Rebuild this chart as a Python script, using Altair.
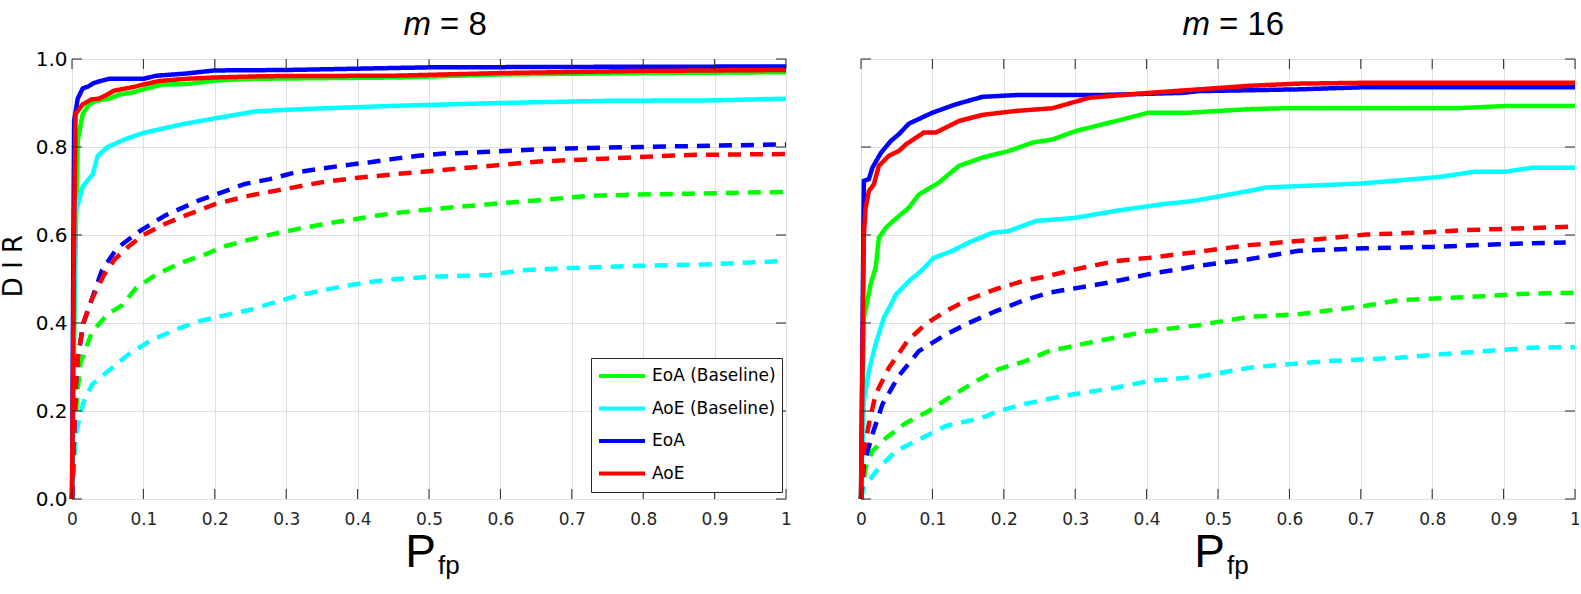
import altair as alt
import pandas as pd

# ---------------- data ----------------
X_TICKS = [0, 0.1, 0.2, 0.3, 0.4, 0.5, 0.6, 0.7, 0.8, 0.9, 1.0]
Y_TICKS = [0, 0.2, 0.4, 0.6, 0.8, 1.0]
METHODS = ["EoA (Baseline)", "AoE (Baseline)", "EoA", "AoE"]
COLORS = ["#00ff00", "#00ffff", "#0000ff", "#ff0000"]
PANEL_M = ["8", "16"]

# m = 8, solid
M8_EOA_BASE = [(0, 0), (0.004, 0.5), (0.008, 0.814), (0.015, 0.875), (0.024, 0.897), (0.034, 0.905),
               (0.052, 0.91), (0.066, 0.919), (0.085, 0.924), (0.104, 0.933), (0.127, 0.942), (0.16, 0.943),
               (0.2, 0.951), (0.253, 0.955), (0.46, 0.958), (0.6, 0.965), (0.8, 0.968), (1.0, 0.97)]
M8_AOE_BASE = [(0, 0), (0.003, 0.4), (0.005, 0.65), (0.015, 0.71), (0.029, 0.738), (0.036, 0.78),
               (0.05, 0.8), (0.075, 0.818), (0.1, 0.832), (0.155, 0.852), (0.2, 0.865), (0.257, 0.881),
               (0.32, 0.886), (0.46, 0.894), (0.6, 0.9), (0.75, 0.905), (0.9, 0.906), (1.0, 0.91)]
M8_EOA = [(0, 0), (0.002, 0.6), (0.003, 0.86), (0.008, 0.91), (0.015, 0.933), (0.022, 0.937), (0.03, 0.945),
          (0.04, 0.95), (0.052, 0.955), (0.1, 0.955), (0.118, 0.962), (0.16, 0.967), (0.2, 0.974),
          (0.3, 0.975), (0.4, 0.978), (0.5, 0.981), (0.7, 0.982), (1.0, 0.983)]
M8_AOE = [(0, 0), (0.003, 0.6), (0.005, 0.875), (0.015, 0.897), (0.027, 0.908), (0.038, 0.91),
          (0.048, 0.918), (0.059, 0.928), (0.085, 0.936), (0.1, 0.942), (0.122, 0.95), (0.16, 0.955),
          (0.2, 0.958), (0.27, 0.961), (0.45, 0.962), (0.6, 0.968), (0.8, 0.973), (1.0, 0.975)]
# m = 8, dashed
M8_EOA_BASE_D = [(0, 0), (0.003, 0.1), (0.005, 0.18), (0.008, 0.25), (0.012, 0.31), (0.028, 0.38),
                 (0.05, 0.42), (0.07, 0.44), (0.09, 0.48), (0.118, 0.51), (0.15, 0.535), (0.185, 0.555),
                 (0.215, 0.575), (0.25, 0.59), (0.29, 0.605), (0.32, 0.615), (0.36, 0.627), (0.40, 0.637),
                 (0.43, 0.645), (0.465, 0.652), (0.5, 0.658), (0.584, 0.67), (0.654, 0.679), (0.724, 0.689),
                 (0.794, 0.692), (0.864, 0.694), (0.934, 0.696), (1.0, 0.698)]
M8_AOE_BASE_D = [(0, 0), (0.003, 0.1), (0.007, 0.16), (0.016, 0.22), (0.028, 0.26), (0.05, 0.29),
                 (0.08, 0.33), (0.11, 0.36), (0.145, 0.385), (0.18, 0.405), (0.215, 0.418), (0.25, 0.43),
                 (0.28, 0.445), (0.315, 0.462), (0.35, 0.474), (0.385, 0.485), (0.42, 0.494), (0.455, 0.5),
                 (0.5, 0.505), (0.584, 0.509), (0.63, 0.52), (0.70, 0.525), (0.794, 0.53), (0.887, 0.533),
                 (1.0, 0.541)]
M8_EOA_D = [(0, 0), (0.002, 0.1), (0.005, 0.25), (0.008, 0.32), (0.016, 0.40), (0.028, 0.455),
            (0.042, 0.52), (0.063, 0.57), (0.096, 0.61), (0.13, 0.644), (0.177, 0.678), (0.21, 0.697),
            (0.242, 0.716), (0.277, 0.727), (0.312, 0.742), (0.345, 0.75), (0.38, 0.758), (0.415, 0.765),
            (0.45, 0.773), (0.485, 0.78), (0.52, 0.785), (0.584, 0.789), (0.654, 0.795), (0.724, 0.798),
            (0.794, 0.80), (0.864, 0.802), (0.934, 0.804), (1.0, 0.806)]
M8_AOE_D = [(0, 0), (0.002, 0.1), (0.005, 0.25), (0.008, 0.32), (0.016, 0.40), (0.028, 0.455),
            (0.045, 0.51), (0.06, 0.545), (0.08, 0.575), (0.1, 0.60), (0.13, 0.625), (0.16, 0.645),
            (0.2, 0.67), (0.25, 0.69), (0.3, 0.705), (0.35, 0.72), (0.4, 0.73), (0.45, 0.738),
            (0.5, 0.745), (0.584, 0.757), (0.654, 0.767), (0.724, 0.772), (0.794, 0.777),
            (0.864, 0.782), (1.0, 0.784)]

# m = 16, solid
M16_EOA_BASE = [(0, 0), (0.004, 0.41), (0.0135, 0.488), (0.0205, 0.526), (0.025, 0.594), (0.035, 0.617),
                (0.053, 0.643), (0.067, 0.662), (0.081, 0.692), (0.109, 0.719), (0.137, 0.757), (0.17, 0.776),
                (0.207, 0.791), (0.24, 0.81), (0.268, 0.817), (0.30, 0.836), (0.357, 0.859), (0.403, 0.878),
                (0.46, 0.878), (0.543, 0.886), (0.59, 0.888), (0.833, 0.888), (0.90, 0.893), (1.0, 0.893)]
M16_AOE_BASE = [(0, 0), (0.004, 0.223), (0.011, 0.291), (0.0205, 0.352), (0.032, 0.412), (0.042, 0.442),
                (0.049, 0.465), (0.067, 0.495), (0.084, 0.518), (0.102, 0.548), (0.128, 0.564),
                (0.151, 0.583), (0.184, 0.605), (0.207, 0.609), (0.245, 0.632), (0.30, 0.639),
                (0.357, 0.655), (0.422, 0.67), (0.464, 0.677), (0.543, 0.70), (0.567, 0.708), (0.7, 0.717),
                (0.81, 0.732), (0.86, 0.744), (0.903, 0.744), (0.94, 0.753), (1.0, 0.753)]
M16_EOA = [(0, 0), (0.004, 0.723), (0.011, 0.727), (0.016, 0.753), (0.028, 0.787), (0.042, 0.814),
           (0.053, 0.829), (0.067, 0.853), (0.1, 0.878), (0.133, 0.897), (0.17, 0.914), (0.217, 0.918),
           (0.333, 0.918), (0.45, 0.923), (0.473, 0.927), (0.613, 0.931), (0.707, 0.936), (1.0, 0.936)]
M16_AOE = [(0, 0), (0.004, 0.6), (0.0065, 0.662), (0.011, 0.70), (0.018, 0.715), (0.025, 0.757),
           (0.039, 0.78), (0.053, 0.791), (0.063, 0.806), (0.088, 0.833), (0.105, 0.833), (0.137, 0.859),
           (0.17, 0.873), (0.217, 0.882), (0.268, 0.888), (0.32, 0.912), (0.403, 0.923), (0.543, 0.939),
           (0.613, 0.944), (0.707, 0.946), (1.0, 0.946)]
# m = 16, dashed
M16_EOA_BASE_D = [(0, 0), (0.0065, 0.071), (0.016, 0.109), (0.035, 0.139), (0.063, 0.173), (0.095, 0.20),
                  (0.123, 0.23), (0.161, 0.268), (0.193, 0.295), (0.231, 0.314), (0.263, 0.336),
                  (0.31, 0.352), (0.357, 0.367), (0.403, 0.382), (0.473, 0.395), (0.543, 0.414),
                  (0.613, 0.42), (0.707, 0.439), (0.753, 0.452), (0.847, 0.459), (0.94, 0.467), (1.0, 0.469)]
M16_AOE_BASE_D = [(0, 0), (0.004, 0.026), (0.025, 0.071), (0.049, 0.109), (0.086, 0.139), (0.119, 0.166),
                  (0.17, 0.185), (0.193, 0.20), (0.226, 0.215), (0.282, 0.234), (0.357, 0.253),
                  (0.403, 0.268), (0.473, 0.278), (0.543, 0.298), (0.567, 0.302), (0.66, 0.314),
                  (0.753, 0.321), (0.847, 0.333), (0.94, 0.344), (1.0, 0.345)]
M16_EOA_D = [(0, 0), (0.004, 0.079), (0.016, 0.147), (0.03, 0.215), (0.053, 0.28), (0.081, 0.336),
             (0.119, 0.374), (0.151, 0.40), (0.189, 0.427), (0.226, 0.45), (0.263, 0.469), (0.319, 0.484),
             (0.357, 0.495), (0.403, 0.511), (0.473, 0.53), (0.543, 0.545), (0.613, 0.564), (0.707, 0.57),
             (0.80, 0.573), (0.893, 0.579), (0.987, 0.583)]
M16_AOE_D = [(0, 0), (0.004, 0.109), (0.011, 0.17), (0.0205, 0.238), (0.039, 0.298), (0.065, 0.359),
             (0.09, 0.397), (0.119, 0.427), (0.151, 0.454), (0.189, 0.477), (0.226, 0.495), (0.263, 0.507),
             (0.30, 0.522), (0.357, 0.541), (0.403, 0.548), (0.473, 0.562), (0.543, 0.577), (0.567, 0.58),
             (0.637, 0.59), (0.707, 0.601), (0.777, 0.605), (0.847, 0.611), (0.917, 0.615), (1.0, 0.619)]

PANELS = [
    {"EoA (Baseline)": (M8_EOA_BASE, M8_EOA_BASE_D), "AoE (Baseline)": (M8_AOE_BASE, M8_AOE_BASE_D),
     "EoA": (M8_EOA, M8_EOA_D), "AoE": (M8_AOE, M8_AOE_D)},
    {"EoA (Baseline)": (M16_EOA_BASE, M16_EOA_BASE_D), "AoE (Baseline)": (M16_AOE_BASE, M16_AOE_BASE_D),
     "EoA": (M16_EOA, M16_EOA_D), "AoE": (M16_AOE, M16_AOE_D)},
]

W, H = 714, 440
INK = "#262626"


def make_df(panel):
    rows = []
    for method in METHODS:
        solid, dashed = panel[method]
        for style, pts in (("dashed", dashed), ("solid", solid)):
            for x, y in pts:
                rows.append({"x": x, "y": y, "method": method, "style": style})
    return pd.DataFrame(rows)


def txt(s, x, y, size, font, style="normal", align="left", angle=0):
    return alt.Chart(pd.DataFrame({"t": [s]})).mark_text(
        align=align, baseline="alphabetic", font=font, fontSize=size,
        fontStyle=style, angle=angle, color="black"
    ).encode(text="t:N", x=alt.value(x), y=alt.value(y))


def panel_chart(idx):
    left = idx == 0
    df = make_df(PANELS[idx])
    legend = alt.Legend(
        title=None, orient="none", legendX=519, legendY=299, direction="vertical",
        symbolType="stroke", symbolSize=2116, symbolStrokeWidth=4, clipHeight=24,
        rowPadding=8.5, labelFont="DejaVu Sans", labelFontSize=17, labelColor="black",
        strokeColor=INK, fillColor="white", padding=6, labelLimit=400, labelOffset=5,
    ) if left else None
    xscale = alt.Scale(domain=[0, 1], nice=False, zero=False)
    yscale = alt.Scale(domain=[0, 1], nice=False, zero=False)
    lines = alt.Chart(df).mark_line(strokeWidth=4.5, strokeCap="butt").encode(
        x=alt.X("x:Q", scale=xscale,
                axis=alt.Axis(values=X_TICKS, format="~g", ticks=False, domain=False, grid=True,
                              gridColor="#dfdfdf", labelFont="DejaVu Sans", labelFontSize=17,
                              labelColor=INK, labelPadding=12, title=None, labelFlush=False)),
        y=alt.Y("y:Q", scale=yscale,
                axis=alt.Axis(values=Y_TICKS, format=".1f", labels=left, ticks=False, domain=False,
                              grid=True, gridColor="#dfdfdf", labelFont="DejaVu Sans", labelFontSize=20,
                              labelColor="black", labelPadding=5, title=None, labelFlush=False)),
        color=alt.Color("method:N", scale=alt.Scale(domain=METHODS, range=COLORS), legend=legend),
        strokeDash=alt.StrokeDash("style:N", scale=alt.Scale(domain=["solid", "dashed"],
                                                           range=[[1, 0], [13, 9]]), legend=None),
    )
    xt = alt.Chart(pd.DataFrame({"x": X_TICKS}))
    yt = alt.Chart(pd.DataFrame({"y": Y_TICKS}))
    ticks = [
        xt.mark_rule(color=INK, strokeWidth=1).encode(x=alt.X("x:Q", scale=xscale), y=alt.value(H), y2=alt.value(H - 10)),
        xt.mark_rule(color=INK, strokeWidth=1).encode(x=alt.X("x:Q", scale=xscale), y=alt.value(0), y2=alt.value(10)),
        yt.mark_rule(color=INK, strokeWidth=1).encode(y=alt.Y("y:Q", scale=yscale), x=alt.value(0), x2=alt.value(10)),
        yt.mark_rule(color=INK, strokeWidth=1).encode(y=alt.Y("y:Q", scale=yscale), x=alt.value(W), x2=alt.value(W - 10)),
    ]
    split = 359 if left else 349
    texts = [
        txt("m", split, -24, 33, "Liberation Sans", style="italic", align="right"),
        txt("= " + PANEL_M[idx], split + 9, -24, 33, "Liberation Sans"),
        txt("P", 364, H + 68, 46, "Liberation Sans", align="right"),
        txt("fp", 366, H + 75, 26, "Liberation Sans"),
    ]
    if left:
        texts.append(txt("D I R", -50, 207, 26, "DejaVu Sans", align="center", angle=270))
    return alt.layer(lines, *ticks, *texts).properties(width=W, height=H)


def build(pad_left, pad_right):
    return alt.hconcat(panel_chart(0), panel_chart(1), spacing=75, bounds="flush").properties(
        padding={"left": pad_left, "top": 8, "right": pad_right, "bottom": 0}
    ).configure_view(stroke=INK, strokeWidth=1)


try:
    chart = build(0, -6)
    chart.to_dict()
except Exception:
    chart = build(1, 0)

chart.save("out.html", embed_options={"renderer": "svg", "actions": False})
